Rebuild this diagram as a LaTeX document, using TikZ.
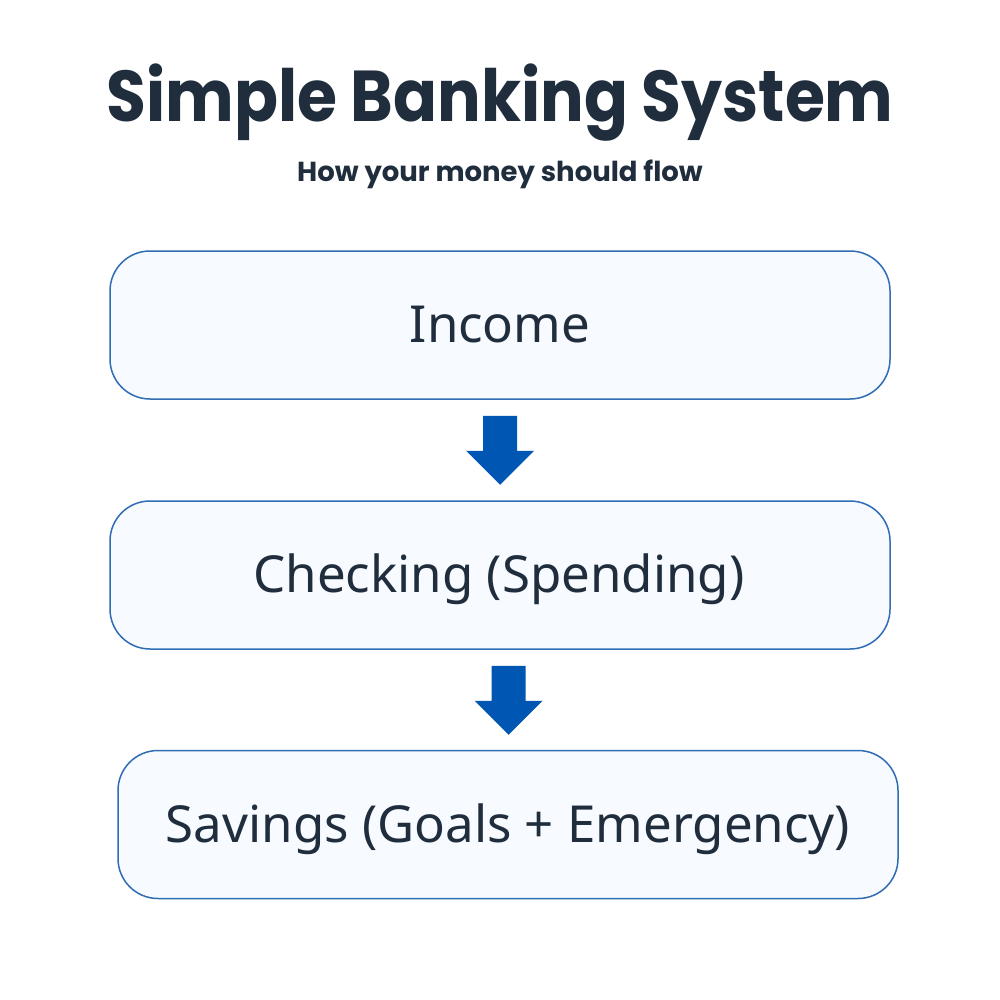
\documentclass[tikz,border=0pt]{standalone}
\usepackage{fontspec}
\setmainfont{Noto Sans}
\newfontfamily\titlefont{Poppins}
\definecolor{ink}{HTML}{1F2D3D}
\definecolor{boxline}{HTML}{2F6DB5}
\definecolor{boxfill}{HTML}{F7FAFF}
\definecolor{arrowblue}{HTML}{0057B3}
\begin{document}
\begin{tikzpicture}[x=1pt,y=-1pt,
  stepbox/.style={draw=boxline,fill=boxfill,line width=1.5pt,rounded corners=40pt,minimum width=780pt,minimum height=148pt,inner sep=0pt},
  boxtext/.style={anchor=base,text=ink,font=\fontsize{51}{60}\selectfont},
  blockarrow/.style={fill=arrowblue,draw=none}]
\useasboundingbox[fill=white] (0,0) rectangle (1000,1000);
\node[anchor=base,text=ink,xscale=0.9,font=\titlefont\bfseries\fontsize{72}{86}\selectfont] (title) at (500,122) {Simple Banking System};
\node[anchor=base,text=ink,font=\titlefont\bfseries\fontsize{27.5}{32}\selectfont] (subtitle) at (500,182) {How your money should flow};
\node[stepbox] (income) at (500,325) {};
\node[stepbox] (checking) at (500,575) {};
\node[stepbox] (savings) at (508,824.5) {};
\node[boxtext] (incometext) at (500,342) {Income};
\node[boxtext] (checkingtext) at (499,592) {Checking (Spending)};
\node[boxtext] (savingstext) at (508,842) {Savings (Goals + Emergency)};
\path[blockarrow] ([xshift=-17pt,yshift=-16pt]income.south) -- ++(34,0) -- ++(0,35) -- ++(17,0) -- ([yshift=-85pt]income.south) -- ++(-34,-34) -- ++(17,0) -- cycle;
\path[blockarrow] ([xshift=8.5pt,yshift=-16pt]checking.south) ++(-17,0) -- ++(34,0) -- ++(0,35) -- ++(17,0) -- ++(-34,34) -- ++(-34,-34) -- ++(17,0) -- cycle;
\end{tikzpicture}
\end{document}
